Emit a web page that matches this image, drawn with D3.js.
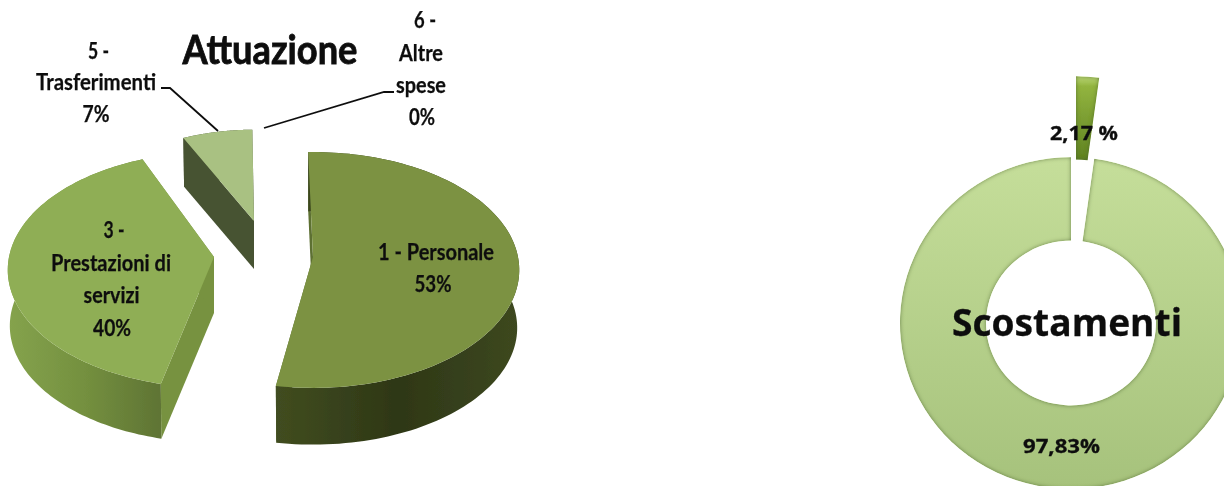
<!DOCTYPE html>
<html>
<head>
<meta charset="utf-8">
<script src="https://cdnjs.cloudflare.com/ajax/libs/d3/7.8.5/d3.min.js"></script>
<style>
  html, body { margin: 0; padding: 0; background: #fff; }
  svg { display: block; }
  text { font-family: Lato, "Noto Sans", sans-serif; font-weight: 700; fill: #111; }
</style>
</head>
<body>
<div id="chart"></div>
<script>
const WIDTH = 1224, HEIGHT = 486;

// Attuazione
const attuazioneNames = ["1 - Personale", "3 - Prestazioni di servizi", "5 - Trasferimenti", "6 - Altre spese"];
const attuazioneValues = [53, 40, 7, 0];

// Scostamenti
const scostamentiNames = ["2,17 %", "97,83%"];
const scostamentiValues = [2.17, 97.83];

// perspective of the 3d pie
const RX = 205, RY = 116.5, TILT = 0.11, BOTTOM_SHRINK = 0.99;

// where each exploded slice sits, one entry per attuazione slice
const sliceLayout = [
  { apex: [313, 257], scale: 1, turn: -1.5, depth: 58, top: "#7b9242", face: "#5d7033", wall: ["#414d20", "#2e3716", "#3d4820"] },
  { apex: [214, 257], scale: 1, turn: 2.6, depth: 56, top: "#8fae54", face: "#779240", wall: ["#85a34d", "#74903f", "#5f7434"] },
  { apex: [254, 221], scale: 0.87, turn: -0.6, depth: 48, top: "#a9c182", face: "#475233", wall: ["#475233", "#475233", "#475233"] },
  { apex: [254, 221], scale: 0.87, turn: 0, depth: 48, top: "#a9c182", face: "#475233", wall: ["#475233", "#475233", "#475233"] }
];

const labelLines = [
  { size: 40, width: 175, x: 270, y: 64, text: "Attuazione" },
  { size: 22, width: 21, x: 98.5, y: 59, text: "5 -" },
  { size: 22, width: 120, x: 96, y: 90, text: "Trasferimenti" },
  { size: 22, width: 27, x: 96, y: 122, text: "7%" },
  { size: 22, width: 22, x: 425, y: 28, text: "6 -" },
  { size: 22, width: 44, x: 421, y: 61, text: "Altre" },
  { size: 22, width: 50, x: 421, y: 93, text: "spese" },
  { size: 22, width: 26, x: 422, y: 125, text: "0%" },
  { size: 22, width: 21, x: 114, y: 238, text: "3 -" },
  { size: 22, width: 120, x: 111, y: 271, text: "Prestazioni di" },
  { size: 22, width: 56, x: 111.5, y: 303, text: "servizi" },
  { size: 22, width: 38, x: 112, y: 336, text: "40%" },
  { size: 22, width: 116, x: 436, y: 260, text: "1 - Personale" },
  { size: 22, width: 37, x: 433, y: 292, text: "53%" }
];

const svg = d3.select("#chart").append("svg")
  .attr("width", WIDTH).attr("height", HEIGHT)
  .attr("viewBox", [0, 0, WIDTH, HEIGHT]);
const defs = svg.append("defs");

const soft = defs.append("filter").attr("id", "soft");
soft.append("feGaussianBlur").attr("stdDeviation", 0.45);

// inner dark edge for the donut pieces
const bevel = defs.append("filter").attr("id", "bevel")
  .attr("x", "-5%").attr("y", "-5%").attr("width", "110%").attr("height", "110%");
bevel.append("feGaussianBlur").attr("in", "SourceAlpha").attr("stdDeviation", 2).attr("result", "b");
bevel.append("feComposite").attr("in", "SourceAlpha").attr("in2", "b")
  .attr("operator", "arithmetic").attr("k2", 1).attr("k3", -1).attr("result", "edge");
bevel.append("feFlood").attr("flood-color", "#4f6a2c").attr("flood-opacity", 1).attr("result", "col");
bevel.append("feComposite").attr("in", "col").attr("in2", "edge").attr("operator", "in").attr("result", "shade");
const bevelMerge = bevel.append("feMerge").attr("result", "m");
bevelMerge.append("feMergeNode").attr("in", "SourceGraphic");
bevelMerge.append("feMergeNode").attr("in", "shade");
bevel.append("feGaussianBlur").attr("in", "m").attr("stdDeviation", 0.5);

const line = d3.line();
const toRad = d => d * Math.PI / 180;

// angle and radius on the pie disc -> screen, z pushes it down to the bottom rim
function project(theta, r, layout, z) {
  const u = Math.sin(theta) * r, v = -Math.cos(theta) * r;
  const den = 1 - TILT * v;
  const shrink = z ? BOTTOM_SHRINK : 1;
  return [
    layout.apex[0] + layout.scale * shrink * RX * u / den,
    layout.apex[1] + layout.scale * shrink * RY * v / den + (z ? layout.depth : 0)
  ];
}

const pie3d = d3.pie().sort(null).startAngle(0).endAngle(2 * Math.PI);
const slices = pie3d(attuazioneValues);

const gPie = svg.append("g").attr("filter", "url(#soft)");

slices.forEach((d, i) => {
  if (d.value === 0) return;
  const layout = sliceLayout[i];
  const a0 = d.startAngle + toRad(layout.turn), a1 = d.endAngle + toRad(layout.turn);
  const angles = d3.range(0, 121).map(k => a0 + (a1 - a0) * k / 120);
  const topRim = angles.map(a => project(a, 1, layout, false));
  const bottomRim = angles.map(a => project(a, 1, layout, true));
  const apexTop = project(0, 0, layout, false), apexBottom = project(0, 0, layout, true);

  const gradId = "wall" + i;
  const grad = defs.append("linearGradient").attr("id", gradId)
    .attr("gradientUnits", "userSpaceOnUse")
    .attr("x1", d3.min(topRim, p => p[0])).attr("x2", d3.max(topRim, p => p[0]))
    .attr("y1", 0).attr("y2", 0);
  layout.wall.forEach((c, k) => grad.append("stop").attr("offset", k / 2).attr("stop-color", c));

  const g = gPie.append("g");
  // cut faces first
  g.append("path")
    .attr("d", line([topRim[0], apexTop, apexBottom, bottomRim[0]]) + "Z")
    .attr("fill", layout.face);
  g.append("path")
    .attr("d", line([topRim[120], apexTop, apexBottom, bottomRim[120]]) + "Z")
    .attr("fill", layout.face);
  // outer wall
  g.append("path")
    .attr("d", line(topRim.concat(bottomRim.slice().reverse())) + "Z")
    .attr("fill", "url(#" + gradId + ")");
  // top
  g.append("path")
    .attr("d", line([apexTop].concat(topRim)) + "Z")
    .attr("fill", layout.top);
});

// leader lines
const leaders = [
  [[161, 88], [170, 88], [218, 131]],
  [[394, 92], [384, 92], [264, 128]]
];
gPie.selectAll("path.leader").data(leaders).join("path")
  .attr("class", "leader")
  .attr("d", line)
  .attr("fill", "none").attr("stroke", "#111").attr("stroke-width", 1.8);

const gLabels = svg.append("g").attr("filter", "url(#soft)");
labelLines.forEach(l => {
  gLabels.append("text")
    .attr("x", l.x).attr("y", l.y)
    .attr("text-anchor", "middle")
    .attr("font-size", l.size)
    .attr("stroke", "#111").attr("stroke-width", l.size > 30 ? 0.8 : 0.25)
    .attr("textLength", l.width).attr("lengthAdjust", "spacingAndGlyphs")
    .text(l.text);
});

// donut
const donutCenter = [1071, 323];
const donutOffset = [[5, -81], [0, 0]];
const donutStops = [
  [[0, "#bcd878"], [0.12, "#92b43f"], [1, "#5f8222"]],
  [[0, "#c5de9a"], [1, "#a6c27c"]]
];

const arc = d3.arc().innerRadius(85).outerRadius(171);
const donutSlices = d3.pie().sort(null).startAngle(0).endAngle(2 * Math.PI)(scostamentiValues);
const gDonut = svg.append("g");

donutSlices.forEach((d, i) => {
  const grad = defs.append("linearGradient").attr("id", "ring" + i)
    .attr("x1", 0).attr("x2", 0).attr("y1", 0).attr("y2", 1);
  donutStops[i].forEach(s => grad.append("stop").attr("offset", s[0]).attr("stop-color", s[1]));
  gDonut.append("path")
    .attr("transform", `translate(${donutCenter[0] + donutOffset[i][0]},${donutCenter[1] + donutOffset[i][1]}) scale(1,0.97)`)
    .attr("d", arc(d))
    .attr("fill", "url(#ring" + i + ")")
    .attr("filter", "url(#bevel)");
});

const donutTexts = [
  { size: 19, width: 68, x: 1084, y: 140, text: scostamentiNames[0] },
  { size: 19, width: 77, x: 1061.5, y: 453, text: scostamentiNames[1] },
  { size: 38, width: 230, x: 1067, y: 336, text: "Scostamenti" }
];
const gDonutText = svg.append("g").attr("filter", "url(#soft)");
donutTexts.forEach(l => {
  gDonutText.append("text")
    .attr("x", l.x).attr("y", l.y)
    .attr("text-anchor", "middle")
    .attr("font-size", l.size)
    .attr("stroke", "#111").attr("stroke-width", 0.3)
    .attr("textLength", l.width).attr("lengthAdjust", "spacingAndGlyphs")
    .style("font-family", "'Open Sans', 'Noto Sans', sans-serif")
    .text(l.text);
});
</script>
</body>
</html>
